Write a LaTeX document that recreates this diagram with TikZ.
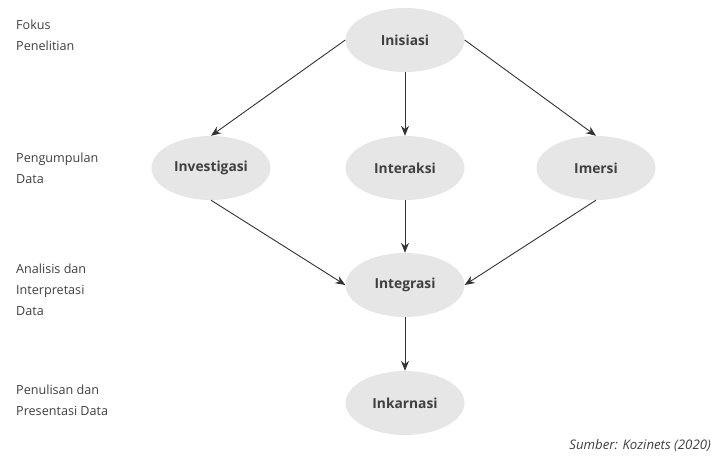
\documentclass[tikz,border=0pt]{standalone}
\usepackage{fontspec}
\setmainfont{Open Sans}
\usetikzlibrary{shapes.geometric,arrows.meta}
\definecolor{fillgray}{HTML}{E6E6E6}
\definecolor{txtgray}{HTML}{404040}
\definecolor{arrgray}{HTML}{333333}
\tikzset{
  stage/.style={ellipse, fill=fillgray, minimum width=119pt, minimum height=64pt, inner sep=0pt,
    font=\fontsize{13.8}{16}\selectfont\bfseries, text=txtgray},
  phase/.style={anchor=west, align=left, inner sep=0pt, text=txtgray,
    font=\fontsize{12.6}{21}\selectfont},
  flow/.style={draw=arrgray, line width=0.9pt, -{Stealth[length=10pt,width=8pt]}},
}
\begin{document}
\begin{tikzpicture}[x=1pt,y=-1pt]
\useasboundingbox (0,0) rectangle (713,457);
\node[stage] (ini) at (405,40) {Inisiasi};
\node[stage] (inv) at (211,168) {Investigasi};
\node[stage] (int) at (405,168) {Interaksi};
\node[stage] (ime) at (596,168) {Imersi};
\node[stage] (ing) at (405,285) {Integrasi};
\node[stage] (ink) at (405,403) {Inkarnasi};

\node[phase] (p1) at (16,35) {Fokus\\Penelitian};
\node[phase] (p2) at (16,168) {Pengumpulan\\Data};
\node[phase] (p3) at (16,290) {Analisis dan\\Interpretasi\\Data};
\node[phase] (p4) at (16,400) {Penulisan dan\\Presentasi Data};

\node[anchor=east, inner sep=0pt, text=txtgray, font=\fontsize{13.2}{15}\selectfont\itshape] (src) at (711,446) {Sumber: Kozinets (2020)};

\draw[flow] (ini.west) -- (inv.north);
\draw[flow] (ini.south) -- (int.north);
\draw[flow] (ini.east) -- (ime.north);
\draw[flow] (inv.south) -- (ing.west);
\draw[flow] (int.south) -- (ing.north);
\draw[flow] (ime.south) -- (ing.east);
\draw[flow] (ing.south) -- (ink.north);
\end{tikzpicture}
\end{document}
